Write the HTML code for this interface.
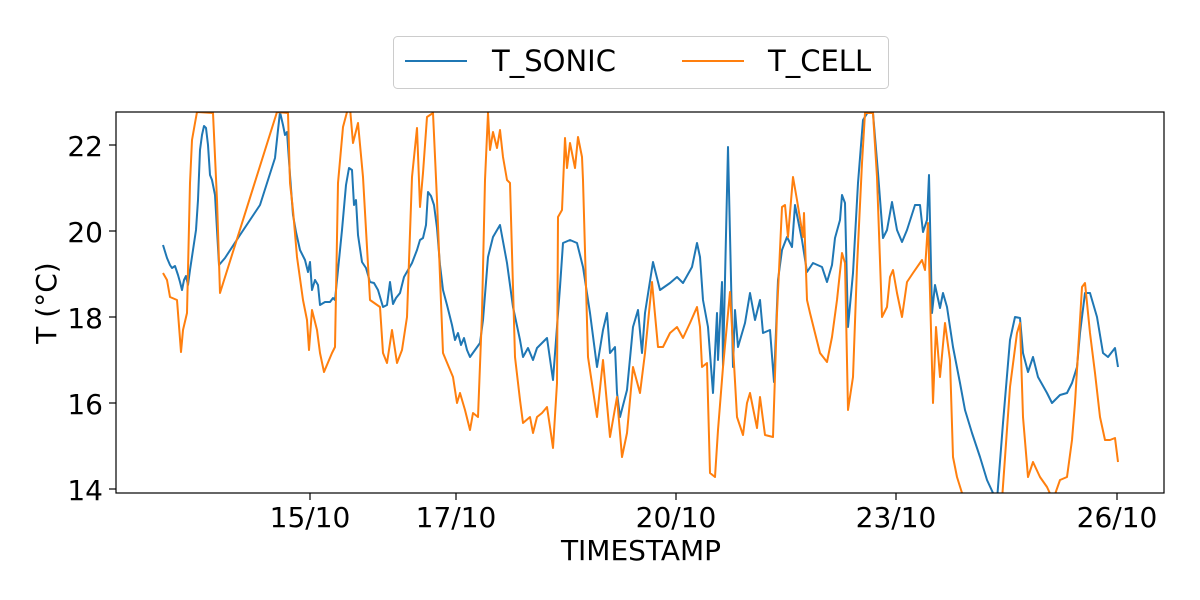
<!DOCTYPE html>
<html><head><meta charset="utf-8"><style>body{margin:0;background:#fff}svg{display:block;font-family:"DejaVu Sans","Liberation Sans",sans-serif}</style></head>
<body>
<svg width="1200" height="600" viewBox="0 0 1200 600">
<defs><clipPath id="c"><rect x="116" y="112" width="1048" height="381"/></clipPath></defs>
<g clip-path="url(#c)" fill="none" stroke-width="2" stroke-linejoin="round">
<polyline stroke="#1f77b4" points="163,245 167,258 170,265 172,268 175,266 178,275 180,282 182,290 184,280 186,276 188,285 190,270 193,250 196,230 198,200 200,150 202,135 204,126 206,128 208,145 210,175 212,180 215,195 219,265 225,258 240,235 260,205 275,158 278,130 280,112 283,125 285,135 287,132 290,175 293,215 296,232 300,250 305,260 308,272 310,262 312,290 315,280 318,285 320,305 325,302 330,302 333,298 335,300 338,270 342,230 346,185 349,168 352,170 354,205 356,200 358,235 362,262 366,268 370,282 374,283 378,290 383,307 387,305 390,282 393,304 396,298 400,293 404,277 408,270 412,263 417,250 420,240 423,238 426,225 428,192 431,196 434,205 437,228 440,265 443,290 447,305 452,325 455,340 458,333 461,345 464,338 467,350 470,357 480,343 483,320 488,257 493,237 500,225 507,263 513,307 520,340 523,357 528,348 533,360 537,348 547,338 553,380 560,287 563,243 570,240 577,243 583,267 590,313 597,367 603,330 607,313 610,353 615,347 617,393 620,417 627,390 633,327 638,310 642,353 645,313 653,262 660,290 670,283 677,277 683,283 692,267 697,243 700,257 703,300 708,327 713,393 717,313 718,360 722,282 723,367 728,147 733,367 735,310 738,347 745,323 750,293 755,320 760,300 763,333 770,330 774,382 778,280 782,250 787,237 792,247 795,205 802,240 807,272 813,263 822,267 827,282 832,265 835,238 840,220 842,195 845,203 848,327 853,273 858,183 863,120 868,112 873,113 878,173 883,238 887,230 892,202 897,230 902,242 907,230 915,205 920,205 923,232 927,220 929,175 932,313 935,285 940,308 943,293 947,307 953,347 960,383 965,410 972,433 980,457 987,480 993,493 997,500 1003,423 1010,340 1015,317 1020,318 1023,353 1028,372 1033,357 1038,377 1047,393 1052,403 1060,395 1067,393 1072,383 1077,367 1080,333 1085,293 1090,293 1097,317 1103,353 1108,357 1115,348 1118,367"/>
<polyline stroke="#ff7f0e" points="163,273 167,280 170,297 177,300 181,352 183,330 187,313 190,183 192,140 195,123 197,112 213,113 217,200 220,293 277,112 288,113 290,183 293,210 297,257 303,300 307,320 309,350 312,310 317,330 320,353 324,372 332,353 335,347 338,183 343,127 347,112 350,108 353,143 358,123 363,177 370,300 380,307 383,353 387,363 392,330 397,363 402,350 407,317 412,177 417,128 420,207 423,173 427,117 433,113 437,200 443,353 453,377 457,403 460,393 465,410 470,430 473,413 478,417 482,313 485,180 488,113 490,150 493,132 497,148 500,130 503,157 507,180 510,183 515,357 520,400 523,423 530,417 533,433 537,417 542,413 547,407 550,427 553,448 557,383 558,217 562,210 565,138 567,168 570,143 575,168 578,137 582,157 583,180 588,357 597,417 603,360 610,437 617,397 622,457 627,433 633,367 640,393 645,353 652,282 658,347 663,347 670,333 677,327 683,338 690,323 697,307 700,327 702,367 707,363 710,473 715,477 718,430 723,367 730,292 737,417 743,435 747,403 750,393 757,428 760,397 765,435 773,437 777,313 782,207 785,205 788,237 793,177 797,200 803,237 804,213 807,300 810,313 815,333 820,353 827,362 832,337 837,300 842,253 845,263 848,410 853,377 857,267 862,163 865,113 873,113 877,177 882,317 887,307 890,277 893,270 897,293 902,317 907,282 913,273 922,260 925,270 928,223 930,293 933,403 936,327 940,377 945,323 950,360 953,457 957,477 962,493 963,500 1002,500 1010,387 1017,333 1020,323 1023,417 1028,477 1033,462 1040,477 1047,487 1053,500 1060,480 1067,477 1072,440 1075,403 1082,287 1085,283 1090,333 1095,373 1100,417 1105,440 1110,440 1115,438 1118,462"/>
</g>
<rect x="116" y="112" width="1048" height="381" fill="none" stroke="#000" stroke-width="1.2"/>
<g stroke="#000" stroke-width="1.2">
<line x1="116" y1="145" x2="109" y2="145"/><line x1="116" y1="231" x2="109" y2="231"/><line x1="116" y1="317" x2="109" y2="317"/><line x1="116" y1="403" x2="109" y2="403"/><line x1="116" y1="489" x2="109" y2="489"/>
<line x1="310" y1="493" x2="310" y2="500"/><line x1="456" y1="493" x2="456" y2="500"/><line x1="676" y1="493" x2="676" y2="500"/><line x1="896" y1="493" x2="896" y2="500"/><line x1="1117" y1="493" x2="1117" y2="500"/>
</g>
<g font-size="28" fill="#000" text-anchor="end">
<text x="103" y="156">22</text><text x="103" y="242">20</text><text x="103" y="328">18</text><text x="103" y="414">16</text><text x="103" y="500">14</text>
</g>
<g font-size="28" fill="#000" text-anchor="middle">
<text x="310" y="527">15/10</text><text x="456" y="527">17/10</text><text x="676" y="527">20/10</text><text x="896" y="527">23/10</text><text x="1117" y="527">26/10</text>
<text x="641" y="560">TIMESTAMP</text>
<text transform="translate(56,303) rotate(-90)">T (°C)</text>
</g>
<rect x="393.5" y="36.5" width="495" height="52" rx="4" fill="#fff" stroke="#ccc"/>
<line x1="405" y1="61" x2="467" y2="61" stroke="#1f77b4" stroke-width="2"/>
<text x="492" y="71" font-size="29">T_SONIC</text>
<line x1="682" y1="61" x2="744" y2="61" stroke="#ff7f0e" stroke-width="2"/>
<text x="768" y="71" font-size="29">T_CELL</text>
</svg>
</body></html>
